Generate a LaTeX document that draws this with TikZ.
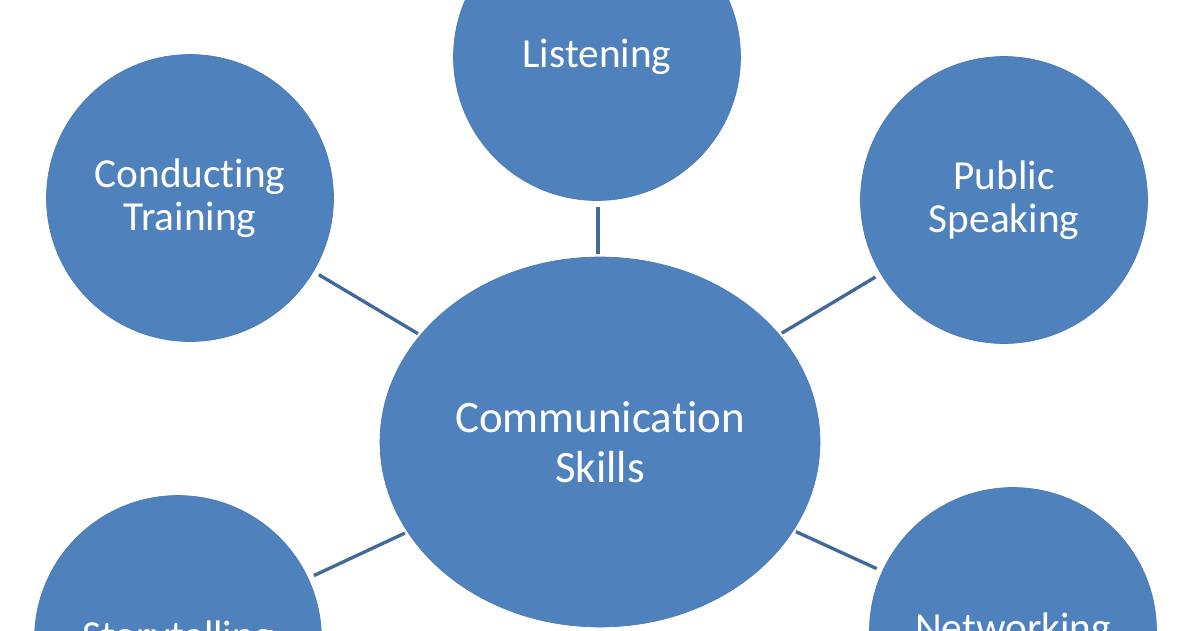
\documentclass[tikz,border=0pt]{standalone}
\usepackage{fontspec}
\setmainfont{Carlito}[Ligatures=NoCommon]
\usetikzlibrary{shapes.geometric}
\definecolor{bubblefill}{RGB}{79,129,189}
\definecolor{bubbleline}{RGB}{66,105,156}

\begin{document}
\begin{tikzpicture}[x=0.02cm, y=-0.02cm,
		bubble/.style={circle, fill=bubblefill, draw=bubblefill!95!black, thin, minimum size=5.74cm, inner sep=0pt, align=center, text=white, font=\fontsize{23.5}{24.4}\selectfont},
		hub/.style={ellipse, fill=bubblefill, draw=bubblefill!95!black, thin, minimum width=8.8cm, minimum height=7.4cm, inner sep=0pt, align=center, text=white, font=\fontsize{25.6}{28.3}\selectfont},
		link/.style={bubbleline, line width=1.9pt, shorten <=3.5pt, shorten >=1.5pt}]
		\useasboundingbox (0,0) rectangle (1200,630);
		\node[hub] (comm) at (600,442) {Communication\\Skills};
		\node[bubble] (listen) at (597,57) {Listening};
		\node[bubble] (train) at (190,198) {Conducting\\Training};
		\node[bubble] (speak) at (1004,200) {Public\\Speaking};
		\node[bubble] (story) at (178,639) {Storytelling};
		\node[bubble] (net) at (1013,631) {Networking};
		\foreach \n in {train,speak,story,net} {
			\draw[link] (\n) -- (comm);
		}
		\draw[link] (listen.south -| 598,0) -- (comm.north -| 598,0);
	\end{tikzpicture}
\end{document}
